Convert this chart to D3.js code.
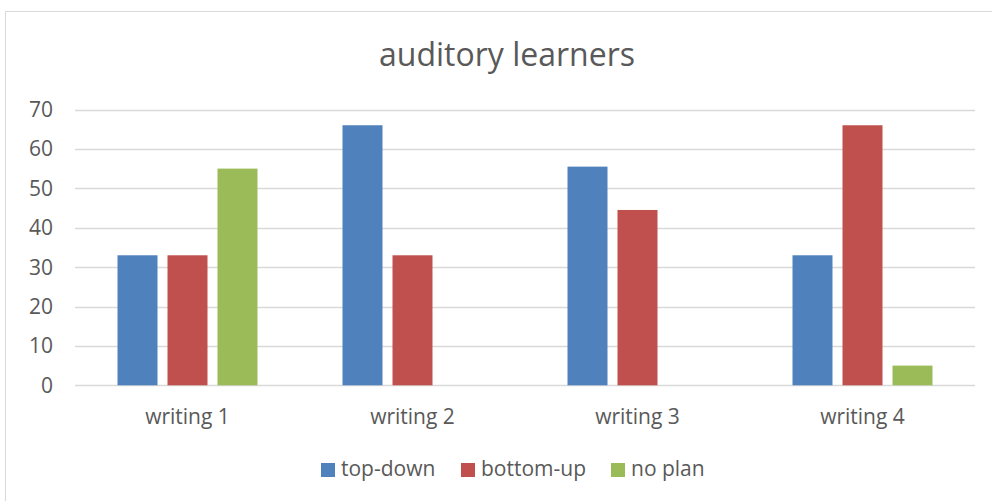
<!DOCTYPE html>
<html>
<head>
<meta charset="utf-8">
<script src="https://cdn.jsdelivr.net/npm/d3@7"></script>
<style>
  body { margin: 0; background: #fff; }
  text { font-family: "Open Sans", Lato, sans-serif; fill: #595959; }
</style>
</head>
<body>
<script>
// auditory learners chart
var categories = ["writing 1", "writing 2", "writing 3", "writing 4"];
var seriesNames = ["top-down", "bottom-up", "no plan"];
var seriesColors = ["#4f81bd", "#c0504d", "#9bbb59"];
var topDown = [33, 66, 55.5, 33];
var bottomUp = [33, 33, 44.5, 66];
var noPlan = [55, 0, 0, 5];
var yTicks = [0, 10, 20, 30, 40, 50, 60, 70];

var series = [topDown, bottomUp, noPlan];

var svg = d3.select("body").append("svg").attr("width", 992).attr("height", 501);

svg.append("rect")
    .attr("x", 5.5).attr("y", 11.5)
    .attr("width", 1000).attr("height", 600)
    .style("fill", "#fff")
    .style("stroke", "#d9d9d9");

svg.append("text")
    .attr("x", 507).attr("y", 66)
    .attr("text-anchor", "middle")
    .style("font-size", "32px")
    .text("auditory learners");

var x = d3.scaleBand().domain(categories).range([75, 975]);
var y = d3.scaleLinear().domain([0, 70]).range([385.3, 109.5]);
var barW = 40, gap = 10;

// gridlines
svg.selectAll(".grid").data(yTicks).enter()
    .append("line")
    .attr("x1", 75).attr("x2", 975)
    .attr("y1", function (d) { return Math.round(y(d)) + 0.5; })
    .attr("y2", function (d) { return Math.round(y(d)) + 0.5; })
    .style("stroke", "#d9d9d9")
    .style("stroke-width", 1.3);

// y tick labels
svg.selectAll(".ylab").data(yTicks).enter()
    .append("text")
    .attr("x", 53)
    .attr("y", function (d) { return y(d) + 7.5; })
    .attr("text-anchor", "end")
    .style("font-size", "21px")
    .text(function (d) { return d; });

// bars
for (var s = 0; s < series.length; s++) {
    svg.selectAll(".bar" + s).data(series[s]).enter()
        .append("rect")
        .attr("x", function (d, i) {
            var c = x(categories[i]) + x.bandwidth() / 2;
            return c - (3 * barW + 2 * gap) / 2 + s * (barW + gap);
        })
        .attr("y", function (d) { return y(d); })
        .attr("width", barW)
        .attr("height", function (d) { return y(0) - y(d); })
        .style("fill", seriesColors[s]);
}

// x labels
svg.selectAll(".xlab").data(categories).enter()
    .append("text")
    .attr("x", function (d) { return x(d) + x.bandwidth() / 2; })
    .attr("y", 424)
    .attr("text-anchor", "middle")
    .style("font-size", "21px")
    .text(function (d) { return d; });

// legend
var legendX = [321, 461, 611];
for (var k = 0; k < seriesNames.length; k++) {
    svg.append("rect")
        .attr("x", legendX[k]).attr("y", 463)
        .attr("width", 14).attr("height", 14)
        .style("fill", seriesColors[k]);
    svg.append("text")
        .attr("x", legendX[k] + 20).attr("y", 476)
        .style("font-size", "21px")
        .text(seriesNames[k]);
}
</script>
</body>
</html>
